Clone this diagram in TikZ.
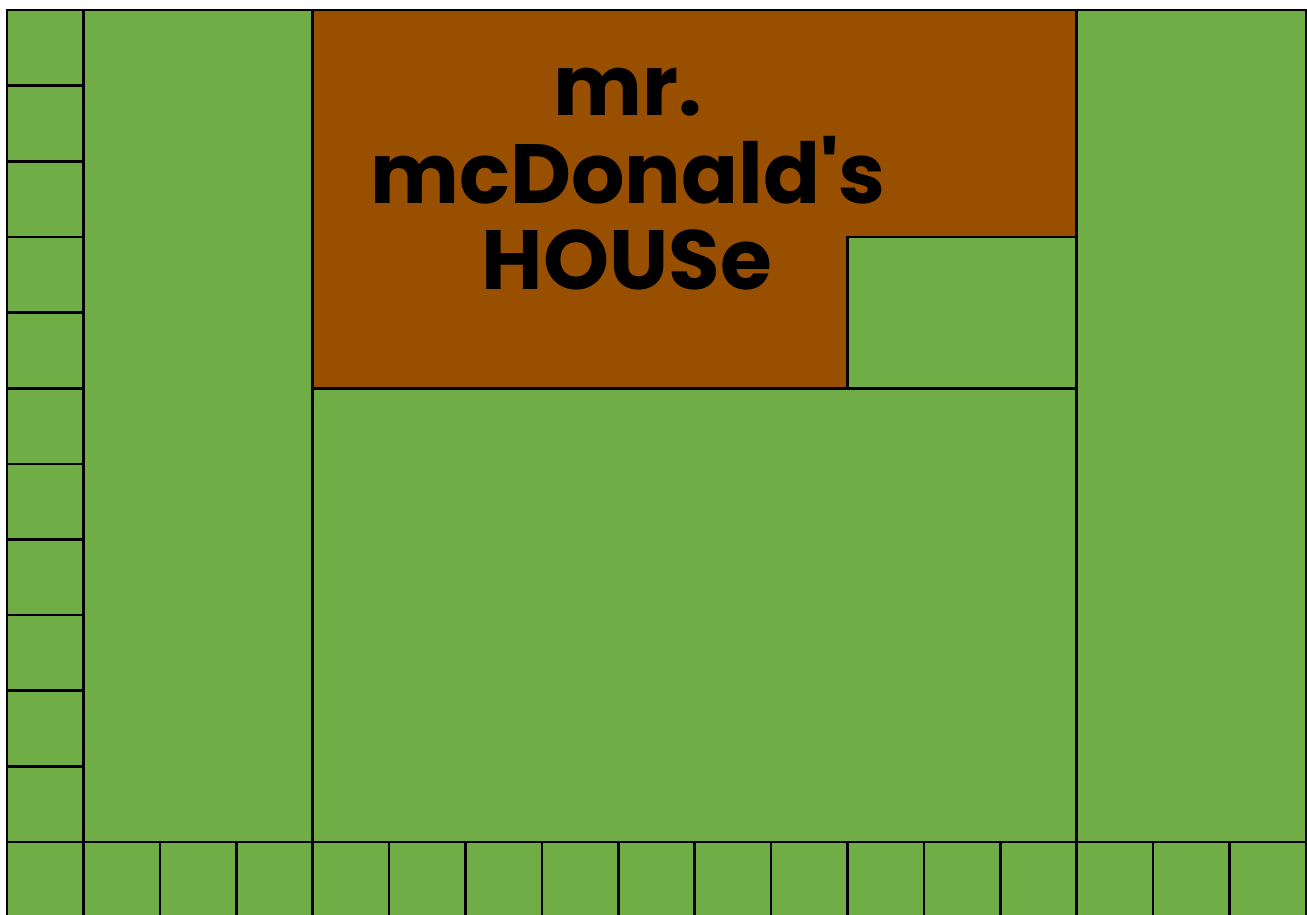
\documentclass[tikz,border=0pt]{standalone}
\usepackage{fontspec}
\newfontfamily\titlefont{Poppins}
\definecolor{grass}{RGB}{112,173,71}
\definecolor{soil}{RGB}{152,79,0}
\tikzset{
  plot/.style={line width=2.6pt, draw=black},
  title/.style={font=\titlefont\bfseries\fontsize{84}{90}\selectfont, text=black, anchor=base, inner sep=0pt}
}
\begin{document}
\begin{tikzpicture}[x=1pt,y=-1pt]
\useasboundingbox (0,0) rectangle (1307,914);
\begin{scope}
\clip (0,0) rectangle (1307,914);
\fill[grass] (7,10) rectangle (1306,940);
\fill[soil] (312.6,10) rectangle (1076.7,388.2);
\fill[grass] (847.5,236.9) rectangle (1076.7,388.2);
% outer frame
\draw[plot] (7,940) -- (7,10) -- (1306,10) -- (1306,940);
% left column cells
\foreach \j in {1,...,10} {
  \draw[plot] (7,{10+75.64*\j}) -- (83.4,{10+75.64*\j});
}
% main verticals
\foreach \x in {83.4,312.6,1076.7} {
  \draw[plot] (\x,10) -- (\x,940);
}
% bottom row
\draw[plot] (7,842) -- (1306,842);
\foreach \i in {2,3,5,6,7,8,9,10,11,12,13,15,16} {
  \draw[plot] ({7+76.41*\i},842) -- ({7+76.41*\i},940);
}
% house outline
\draw[plot] (312.6,388.2) -- (1076.7,388.2);
\draw[plot] (847.5,388.2) -- (847.5,236.9) -- (1076.7,236.9);
\end{scope}
\node[title] (l1) at (628,115) {mr.};
\node[title] (l2) at (628,203) {mcDonald's};
\node[title] (l3) at (627,289) {HOUSe};
\end{tikzpicture}
\end{document}
